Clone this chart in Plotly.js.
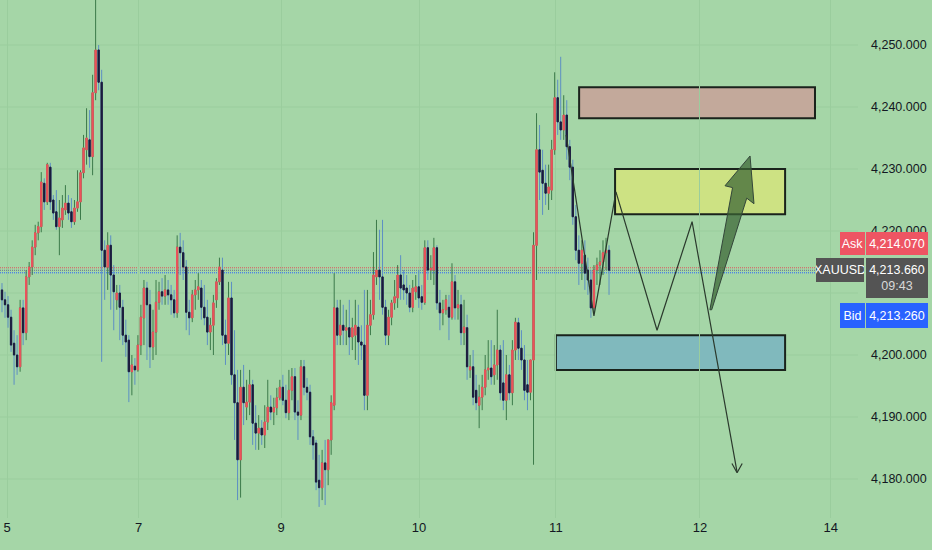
<!DOCTYPE html>
<html><head><meta charset="utf-8">
<script src="https://cdn.plot.ly/plotly-3.0.1.min.js"></script>
<style>html,body{margin:0;padding:0;background:#a5d6a7;}#chart{width:932px;height:550px;}</style>
</head><body><div id="chart"></div>
<script>
// XAUUSD candles, oldest first
const openP = [
4210.5,4208.9,4208.1,4206.1,4201.9,4200.0,4198.1,4207.6,4203.6,4212.6,4214.2,4217.4,4219.7,4220.7,4227.7,4224.7,4230.3,4225.0,4223.1,4220.7,4221.8,4223.4,4224.5,4223.1,4221.5,4223.7,4224.7,4229.4,4233.1,4234.7,4232.0,4242.3,4249.2,4244.0,
4216.9,4214.2,4217.7,4212.9,4208.9,4210.0,4207.7,4203.2,4202.4,4197.3,4198.2,4197.6,4201.6,4206.0,4210.8,4208.1,4201.3,4203.7,4208.5,4210.2,4209.5,4210.5,4209.7,4208.9,4206.8,4217.4,4216.5,4214.2,4206.9,4206.0,4209.7,4210.5,4210.8,4207.7,4206.1,4203.7,4204.8,4208.9,4211.8,4213.7,4203.2,
4201.9,4209.2,4196.8,4192.3,4183.1,4194.8,4191.6,4192.4,4195.2,4189.0,4187.4,4188.2,4187.1,4189.2,4191.6,4190.8,4191.5,4193.1,4194.8,4192.7,4190.7,4194.3,4196.5,4190.8,4190.3,4198.1,4194.8,4194.0,4186.8,4185.8,4179.8,4178.6,4182.6,4181.5,4186.3,4191.9,4207.6,
4203.2,4204.8,4204.0,4204.4,4202.9,4203.2,4204.5,4202.1,4201.6,4193.5,4204.8,4206.5,4212.6,4213.7,4212.6,4207.7,4203.2,4206.1,4208.4,4209.2,4212.9,4211.3,4210.8,4210.0,4207.7,4210.2,4211.0,4209.4,4208.5,4217.3,4213.7,4213.7,4217.3,4208.4,4206.8,4207.3,4207.7,4206.1,4211.8,4207.6,4208.1,
4203.6,4204.4,4197.6,4198.1,4194.3,4191.9,4193.2,4194.8,4197.6,4197.9,4196.8,4198.4,4200.8,4195.5,4192.7,4196.8,4193.9,4200.8,4205.2,4201.1,4199.2,4195.2,4194.0,4199.2,
4217.7,4233.1,4229.8,4227.7,4226.1,4226.6,4233.1,4241.5,4237.6,4236.3,4238.7,4233.6,4230.3,4222.3,4216.9,4214.8,4216.1,4213.7,4212.1,4207.6,4213.7,4214.5,4215.0,4216.5,4216.9
];
const highP = [
4211.6,4210.2,4209.5,4207.3,4204.0,4203.2,4208.9,4208.9,4213.7,4215.0,4218.5,4221.0,4221.5,4229.5,4228.5,4231.0,4231.0,4225.8,4226.6,4225.0,4225.8,4227.4,4225.8,4225.3,4225.0,4229.8,4229.8,4235.5,4239.8,4239.5,4245.2,4258.5,4250.0,4246.0,
4218.5,4219.8,4219.3,4214.5,4211.3,4211.3,4208.9,4205.7,4203.2,4200.0,4199.5,4203.2,4208.1,4212.1,4211.8,4210.5,4207.3,4212.1,4211.8,4212.4,4212.9,4212.1,4211.3,4210.5,4219.3,4219.7,4218.5,4215.3,4208.9,4210.5,4212.1,4213.2,4212.1,4211.3,4208.9,4206.0,4209.7,4212.4,4215.7,4215.7,4205.7,
4211.8,4211.8,4204.0,4197.6,4197.6,4198.4,4196.0,4197.6,4196.0,4191.9,4190.3,4189.5,4191.9,4196.0,4193.5,4193.1,4194.7,4196.0,4196.8,4195.2,4197.6,4197.9,4197.9,4192.7,4199.2,4199.2,4196.3,4195.2,4187.9,4186.3,4183.9,4184.7,4186.3,4186.3,4193.5,4213.2,4208.9,
4208.9,4208.1,4207.3,4208.9,4206.0,4208.9,4208.1,4204.8,4210.5,4210.5,4208.9,4216.6,4221.8,4220.2,4221.8,4208.9,4207.3,4208.9,4212.1,4214.5,4216.1,4213.7,4212.9,4211.3,4212.1,4212.9,4213.7,4211.3,4218.5,4218.5,4216.1,4218.9,4217.7,4210.5,4208.9,4209.7,4209.7,4214.8,4212.9,4210.5,4209.7,
4208.9,4206.5,4200.0,4200.8,4196.8,4195.2,4196.8,4200.0,4202.4,4202.4,4201.6,4207.3,4201.6,4202.4,4200.0,4198.4,4202.4,4206.0,4206.0,4204.0,4201.6,4199.2,4199.2,4219.8,
4239.0,4237.1,4233.1,4230.7,4230.7,4234.7,4245.6,4244.4,4248.1,4241.9,4241.1,4234.7,4231.5,4224.2,4219.3,4218.5,4218.5,4215.7,4213.7,4214.5,4215.7,4216.9,4218.5,4218.9,4217.7
];
const lowP = [
4206.9,4206.0,4204.4,4200.5,4195.2,4196.8,4197.3,4201.6,4202.4,4211.3,4212.9,4216.1,4218.5,4219.8,4223.4,4224.2,4223.4,4221.8,4220.2,4216.1,4220.5,4222.6,4221.8,4220.5,4221.0,4223.1,4221.8,4228.5,4230.7,4230.2,4229.0,4241.1,4242.7,4198.9,
4208.9,4210.5,4207.3,4204.0,4207.3,4202.4,4201.6,4199.7,4192.4,4193.5,4195.2,4197.3,4200.0,4201.6,4199.2,4197.9,4199.2,4200.0,4207.3,4208.1,4208.1,4208.1,4206.5,4206.0,4206.0,4212.9,4212.1,4204.0,4203.2,4205.3,4207.3,4208.9,4205.7,4204.8,4201.6,4200.8,4200.0,4207.6,4211.3,4201.6,4198.4,
4200.0,4195.2,4186.3,4176.6,4177.0,4188.7,4189.5,4190.3,4185.5,4184.7,4184.7,4185.5,4185.0,4187.9,4189.5,4188.7,4190.3,4192.7,4191.9,4189.8,4189.5,4192.7,4189.5,4186.3,4189.5,4193.5,4192.7,4185.5,4183.1,4178.2,4175.5,4176.6,4175.8,4179.0,4183.9,4191.1,4201.6,
4201.6,4201.6,4201.6,4200.0,4200.8,4199.2,4198.4,4199.2,4191.1,4191.1,4203.2,4205.7,4211.3,4208.9,4206.5,4201.6,4201.6,4204.8,4207.3,4207.6,4208.9,4208.9,4208.1,4206.9,4206.9,4208.9,4207.6,4207.3,4208.1,4212.1,4212.1,4211.3,4207.3,4204.0,4204.8,4206.5,4202.4,4205.7,4205.7,4205.7,4201.6,
4201.6,4196.0,4196.3,4191.9,4191.1,4188.2,4191.1,4193.5,4196.0,4195.2,4195.2,4196.0,4192.7,4191.1,4189.5,4192.7,4191.9,4199.2,4199.2,4197.6,4192.7,4191.1,4192.7,4182.3,
4212.1,4225.0,4222.6,4224.2,4223.4,4225.0,4232.3,4235.5,4234.7,4234.7,4231.5,4228.2,4221.0,4215.3,4211.3,4212.1,4210.5,4209.7,4206.0,4206.9,4211.3,4211.3,4212.9,4213.7,4209.7
];
const closeP = [
4208.9,4208.1,4206.1,4201.6,4200.0,4198.1,4207.6,4203.6,4212.6,4214.2,4217.4,4219.7,4220.7,4227.9,4224.7,4230.7,4224.7,4222.9,4220.7,4222.1,4223.7,4224.5,4222.9,4221.5,4223.7,4224.7,4229.4,4233.4,4235.0,4232.0,4242.3,4249.2,4244.0,4216.9,
4214.2,4217.7,4212.9,4210.2,4210.0,4207.7,4203.2,4202.1,4197.3,4198.4,4197.6,4201.6,4206.1,4210.8,4208.1,4201.3,4203.7,4208.5,4210.2,4209.5,4210.5,4209.7,4208.9,4206.8,4217.4,4216.5,4214.2,4206.9,4206.0,4209.7,4210.5,4211.0,4207.7,4206.0,4203.7,4204.8,4208.4,4211.8,4214.2,4203.2,4201.9,
4209.2,4196.8,4192.3,4183.1,4194.8,4192.3,4192.4,4195.2,4189.0,4187.4,4188.2,4187.1,4189.2,4191.6,4190.8,4191.5,4193.1,4194.8,4192.7,4190.7,4194.3,4196.5,4190.8,4190.3,4198.1,4194.8,4194.0,4186.8,4185.5,4179.5,4178.6,4182.6,4181.5,4186.3,4192.3,4207.6,4203.2,
4204.8,4204.0,4204.4,4202.9,4204.4,4204.8,4202.1,4201.6,4193.5,4204.8,4206.5,4212.9,4213.7,4212.6,4207.7,4203.2,4206.1,4208.4,4209.4,4212.9,4210.8,4210.5,4210.0,4207.7,4210.8,4211.0,4209.2,4208.5,4217.3,4213.7,4214.0,4217.3,4208.4,4206.8,4207.3,4208.9,4206.1,4211.8,4207.6,4208.1,4203.6,
4204.5,4198.1,4198.1,4193.2,4192.3,4193.2,4194.8,4197.6,4197.9,4196.5,4198.4,4200.8,4193.9,4192.7,4196.8,4193.9,4200.8,4205.3,4201.1,4199.2,4194.3,4194.0,4199.2,4217.7,
4233.1,4229.5,4227.7,4226.1,4227.1,4233.1,4241.5,4237.6,4236.3,4238.7,4233.6,4230.3,4222.3,4216.9,4214.8,4216.9,4213.2,4212.1,4207.6,4213.7,4214.5,4215.0,4216.5,4216.9,4213.66
];

// time axis labels (day of month) and their positions in bar units
const dayLabels = ['5','7','9','10','11','12','14'];
const dayPos = [1.69, 45.2, 92.45, 138.1, 183.4, 231.1, 274.4];
// price grid levels; the 4,210 label sits under the quote boxes, so only its grid line is drawn
const priceGrid = [4180,4190,4200,4210,4220,4230,4240,4250];
const priceLabels = [4180,4190,4200,4220,4230,4240,4250];

// quotes
const askP = 4214.07, lastP = 4213.66, bidP = 4213.26;
const symbol = 'XAUUSD', countdown = '09:43';

// drawn zones (bar units / price)
const zoneX0 = [191.1, 203.0, 183.4];
const zoneX1 = [269.2, 259.3, 259.3];
const zoneLow = [4238.2, 4222.7, 4197.6];
const zoneHigh = [4243.2, 4230.0, 4203.2];
const zoneFill = ['#c3a99b', '#cde283', '#80b9bd'];

// drawn zigzag path with arrow head
const pathX = [186.8, 196.0, 203.3, 216.9, 228.5, 243.4];
const pathY = [4235.5, 4206.3, 4226.3, 4204.0, 4221.5, 4181.1];
const headX = [241.7, 243.4, 245.1];
const headY = [4182.5, 4181.0, 4182.5];
// fat arrow polygon
const bigArrowX = [234.4, 241.9, 239.4, 247.7, 249.0, 246.6, 235.0, 234.4];
const bigArrowY = [4207.3, 4227.0, 4227.3, 4232.1, 4224.4, 4225.3, 4207.3, 4207.3];

const idx = closeP.map((_, i) => i);
const bodyHi = openP.map((o, i) => Math.max(o, closeP[i]));
const bodyLo = openP.map((o, i) => Math.min(o, closeP[i]));

const UP = '#ec525c', DOWN = '#1c1c3c', WICK_UP = '#3c7a4a', WICK_DN = '#5d8fc4';
const BG = '#a5d6a7', GRID = '#9acd9d';
const FONT = 'Liberation Sans, Arial, sans-serif';

const fmt = v => v.toFixed(3).replace(/\B(?=(\d{3})+(?!\d))/, ',');

const traces = [
  {type:'candlestick', x: idx, open: openP, high: highP, low: lowP, close: closeP,
   increasing:{line:{color:WICK_UP,width:1}, fillcolor:UP},
   decreasing:{line:{color:WICK_DN,width:1}, fillcolor:DOWN},
   whiskerwidth:0, hoverinfo:'skip', showlegend:false},
  {type:'candlestick', x: idx, open: openP, high: bodyHi, low: bodyLo, close: closeP,
   increasing:{line:{color:UP,width:1}, fillcolor:UP},
   decreasing:{line:{color:DOWN,width:1}, fillcolor:DOWN},
   whiskerwidth:0, hoverinfo:'skip', showlegend:false},
  {type:'scatter', mode:'lines', x: pathX, y: pathY, line:{color:'#2b3a2d', width:1.2}, hoverinfo:'skip', showlegend:false},
  {type:'scatter', mode:'lines', x: headX, y: headY, line:{color:'#2b3a2d', width:1.2}, hoverinfo:'skip', showlegend:false},
  {type:'scatter', mode:'lines', x: bigArrowX, y: bigArrowY, fill:'toself', fillcolor:'rgba(58,100,52,0.72)',
   line:{color:'#33463a', width:1}, hoverinfo:'skip', showlegend:false}
];

const shapes = [];
priceGrid.forEach(p => shapes.push({type:'line', xref:'paper', yref:'y', x0:0, x1:1, y0:p, y1:p,
  line:{color:GRID, width:1}, layer:'below'}));
zoneX0.forEach((x0, i) => shapes.push({type:'rect', xref:'x', yref:'y', x0, x1: zoneX1[i], y0: zoneLow[i], y1: zoneHigh[i],
  fillcolor: zoneFill[i], line:{color:'#1a231c', width:2}, layer:'below'}));
[[askP,'#e0505c'],[lastP,'#6a7686'],[bidP,'#2962ff']].forEach(([p,c]) => shapes.push({type:'line', xref:'paper', yref:'y',
  x0:0, x1:1, y0:p, y1:p, line:{color:c, width:1, dash:'1px,1px'}, layer:'below'}));

const lab = (text, x, y, yshift, w, h, bg) => ({text, xref:'paper', yref:'y', x, y, xanchor:'left', yanchor:'top',
  yshift, width:w, height:h, bgcolor:bg, borderpad:0, borderwidth:0, showarrow:false, align:'center', valign:'middle',
  font:{family:FONT, size:12.5, color:'#ffffff'}});
const W = 858;
const annotations = [
  lab('Ask', 840/W, askP, 36, 25, 23, '#ee5563'),
  lab(fmt(askP), 866/W, askP, 36, 62, 23, '#ee5563'),
  lab(symbol, 816/W, lastP, 12.3, 48, 24, '#545454'),
  lab(fmt(lastP) + '<br><span style="color:#d8d8d8">' + countdown + '</span>', 866/W, lastP, 12.3, 62, 40, '#545454'),
  lab('Bid', 840/W, bidP, -30.2, 25, 25, '#2962ff'),
  lab(fmt(bidP), 866/W, bidP, -30.2, 62, 25, '#2962ff')
];

const layout = {
  width:932, height:550, margin:{l:0, r:74, t:0, b:32},
  paper_bgcolor:BG, plot_bgcolor:BG, showlegend:false, boxgap:0.38,
  font:{family:FONT, color:'#131722', size:12.5},
  xaxis:{range:[-0.66, 283.44], tickmode:'array', tickvals:dayPos, ticktext:dayLabels,
    showgrid:true, gridcolor:GRID, gridwidth:1, zeroline:false, showline:false, ticks:'',
    rangeslider:{visible:false}, tickfont:{size:13, color:'#131722'}, fixedrange:true},
  yaxis:{side:'right', range:[4173.71, 4257.26], tickmode:'array', tickvals:priceLabels, tickformat:',.3f',
    showgrid:false, zeroline:false, showline:false, ticks:'',
    ticklabelstandoff:12, tickfont:{size:12.5, color:'#131722'}, fixedrange:true},
  shapes, annotations
};

Plotly.newPlot('chart', traces, layout, {displayModeBar:false, staticPlot:true});
</script></body></html>
